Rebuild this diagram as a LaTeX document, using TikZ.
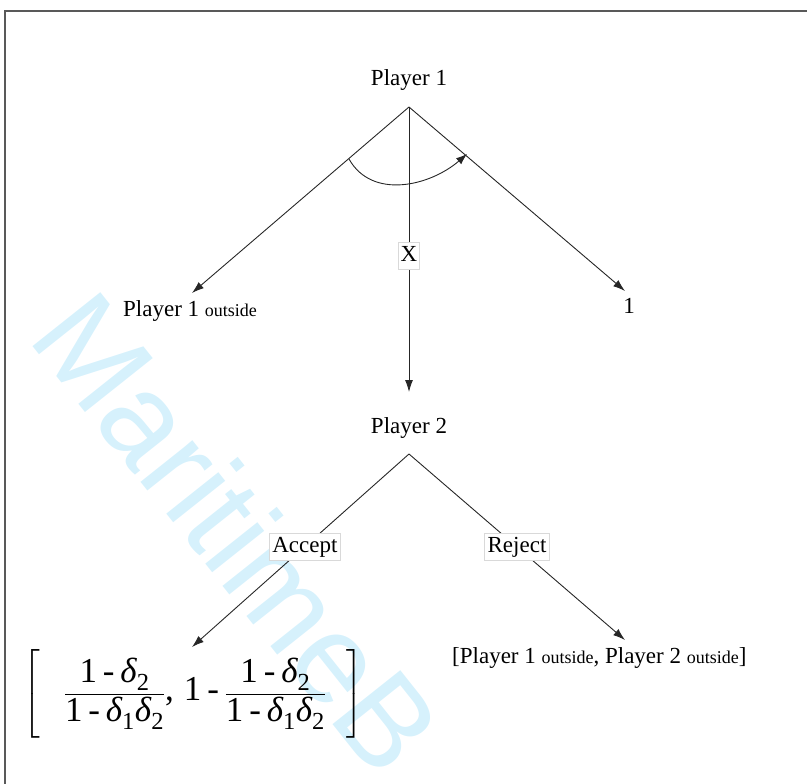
\documentclass[tikz,border=0pt]{standalone}
\usepackage{amsmath}
\usepackage{fontspec}
\setmainfont{Liberation Serif}
\newfontfamily\wmfont{Liberation Sans}
\usetikzlibrary{arrows.meta}
\definecolor{wm}{RGB}{214,241,252}
\newcommand{\smallsub}[1]{{\fontsize{18}{20}\selectfont #1}}
\newcommand{\dlt}[1]{\text{\itshape δ}_{\text{#1}}}
\begin{document}
\begin{tikzpicture}[x=1pt,y=-1pt,
  lab/.style={font=\fontsize{23}{27}\selectfont, inner sep=0pt},
  tag/.style={lab, fill=white, draw=black!15, line width=0.4pt, inner xsep=3pt, inner ysep=3pt, text height=16pt, text depth=5pt},
  edge/.style={draw=black!85, line width=0.9pt},
  arr/.style={edge, -{Latex[length=12pt,width=8pt]}},
  frame/.style={draw=black!65, line width=1.3pt}]
\useasboundingbox (0,0) rectangle (807,784);
% watermark
\begin{scope}
  \clip (0,0) rectangle (807,784);
  \node[rotate=-51.5, text=wm, inner sep=0pt, font=\wmfont\fontsize{126}{126}\selectfont] (wmk) at (238,532) {MaritimeB};
\end{scope}
% frame
\coordinate (fa) at (807,11);
\coordinate (fb) at (5,11);
\coordinate (fc) at (5,784);
\draw[frame] (fa) -- (fb) -- (fc);
% nodes
\node[lab, anchor=base] (p1) at (409,86) {Player 1};
\coordinate (r1) at (409,107);
\coordinate (t1) at (192,293);
\coordinate (t2) at (625,291);
\coordinate (t3) at (409,392);
\node[lab, anchor=base west] (o1) at (123,316) {Player 1 \smallsub{outside}};
\node[lab, anchor=base] (one) at (629,313) {1};
\node[lab, anchor=base] (p2) at (409,433) {Player 2};
\coordinate (r2) at (409,454);
\coordinate (t4) at (192,647);
\coordinate (t5) at (625,640);
\node[lab, anchor=base west] (rej) at (452,663) {[Player 1 \smallsub{outside}, Player 2 \smallsub{outside}]};
\node[inner sep=0pt, font=\fontsize{35}{40}\selectfont] (acc) at (193,694)
  {$\left[\rule[-37pt]{0pt}{77pt}\hspace{24pt}\dfrac{\text{1\,-\,}\dlt{2}}{\text{1\,-\,}\dlt{1}\dlt{2}}\text{,}\hspace{10pt}\text{1\,-\,}\dfrac{\text{1\,-\,}\dlt{2}}{\text{1\,-\,}\dlt{1}\dlt{2}}\hspace{20pt}\right]$};
% edges
\draw[arr] (r1) -- (t1);
\draw[arr] (r1) -- (t2);
\draw[arr] (r1) -- node[tag, pos=0.523, inner xsep=2pt] (xl) {X} (t3);
\coordinate (a1) at (349,159);
\coordinate (a2) at (467,154);
\draw[edge, -{Latex[length=11pt,width=8pt]}] (a1) .. controls (372,200) and (430,186) .. (a2);
\draw[arr] (r2) -- node[tag, pos=0.48] (accl) {Accept} (t4);
\draw[arr] (r2) -- node[tag, pos=0.5] (rejl) {Reject} (t5);
\end{tikzpicture}
\end{document}
